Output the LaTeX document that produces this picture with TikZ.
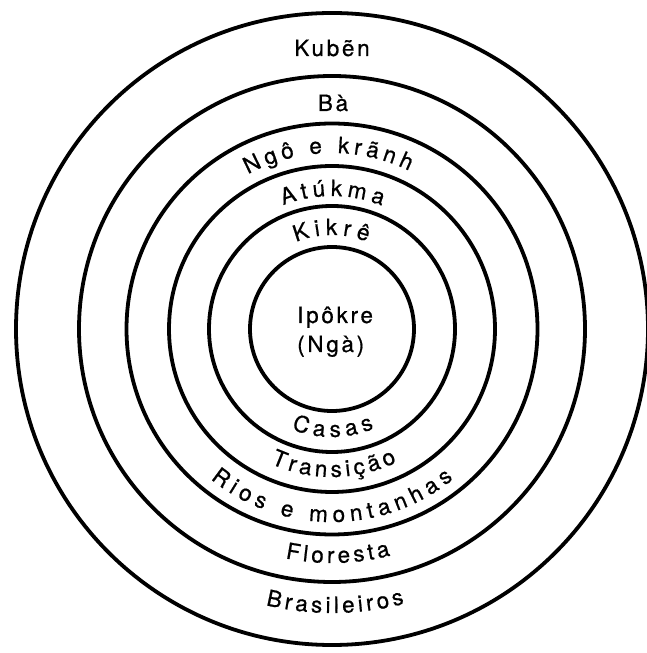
\documentclass[tikz,border=0pt]{standalone}
\usepackage{fontspec}
\setmainfont{TeX Gyre Heros}[FakeBold=0.7]
\newfontfamily\spaced{TeX Gyre Heros}[LetterSpace=12,FakeBold=0.7]
\usetikzlibrary{decorations.text}
\newcommand\tsz{\fontsize{22.5pt}{27pt}\selectfont}
\begin{document}
\begin{tikzpicture}[
  ring/.style={draw=black, line width=3.8pt},
  flat/.style={font=\spaced\tsz, inner sep=0pt},
  curved/.style={decorate, decoration={text along path, text={|\tsz|#1}, text align={fit to path}}}
]
\useasboundingbox (0pt,0pt) rectangle (647pt,653pt);
\coordinate (C) at (332pt,324pt);
% rings
\draw[ring] (C) circle[radius=316pt];
\draw[ring] (C) circle[radius=253pt];
\draw[ring] (C) circle[radius=205.5pt];
\draw[ring] (C) circle[radius=163pt];
\draw[ring] (C) circle[radius=123pt];
\draw[ring] (C) circle[radius=82pt];
% straight labels
\node[flat, anchor=base] (kuben) at (332pt,597pt) {Kubẽn};
\node[flat, anchor=base] (ba) at (333pt,542pt) {Bà};
\node[flat, anchor=base west] (ipokre) at (297pt,330pt) {Ipôkre};
\node[flat, anchor=base west] (nga) at (297pt,301pt) {(Ngà)};
% top curved labels
\path[curved={Ngô e krãnh}] ([shift={(118.5:176pt)}]C) arc[start angle=118.5, end angle=64, radius=176pt];
\path[curved={Atúkma}] ([shift={(111.5:133pt)}]C) arc[start angle=111.5, end angle=68, radius=133pt];
\path[curved={Kikrê}] ([shift={(112.5:94pt)}]C) arc[start angle=112.5, end angle=68, radius=94pt];
% bottom curved labels
\path[curved={Casas}] ([shift={(248:108pt)}]C) arc[start angle=248, end angle=293, radius=108pt];
\path[curved={Transição}] ([shift={(245.5:148pt)}]C) arc[start angle=245.5, end angle=296, radius=148pt];
\path[curved={Rios e montanhas}] ([shift={(231:193pt)}]C) arc[start angle=231, end angle=309, radius=193pt];
\path[curved={Floresta}] ([shift={(258.5:234pt)}]C) arc[start angle=258.5, end angle=284.5, radius=234pt];
\path[curved={Brasileiros}] ([shift={(256.5:284pt)}]C) arc[start angle=256.5, end angle=284.8, radius=284pt];
\end{tikzpicture}
\end{document}
